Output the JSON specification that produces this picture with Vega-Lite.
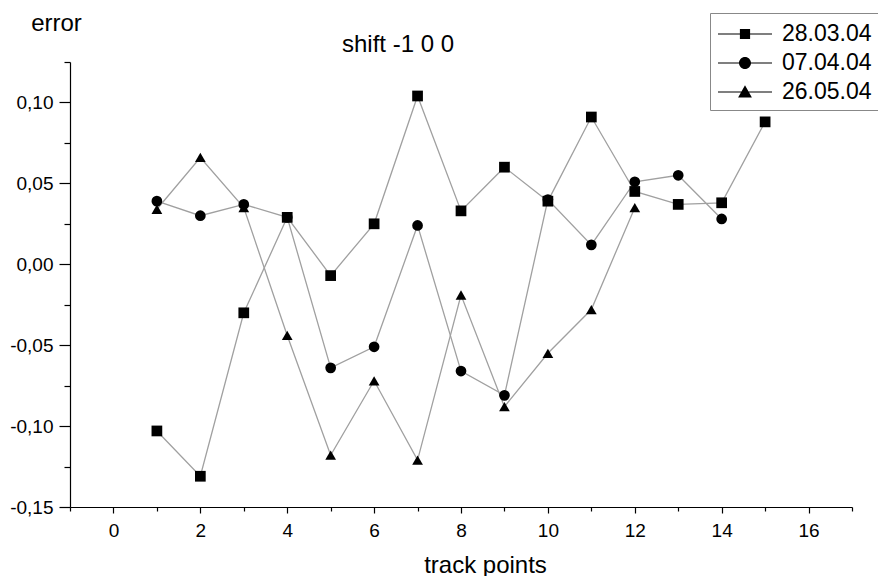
{
  "$schema": "https://vega.github.io/schema/vega-lite/v6.json",
  "width": 782,
  "height": 445,
  "autosize": {"type": "none"},
  "padding": {"left": 70, "top": 62, "right": 26, "bottom": 69},
  "background": "white",
  "config": {
    "font": "Liberation Sans",
    "view": {"stroke": null},
    "axis": {"domainColor": "black", "tickColor": "black", "labelColor": "black", "titleColor": "black", "domainWidth": 1.2, "tickWidth": 1.2, "grid": false, "labelFont": "Liberation Sans", "titleFont": "Liberation Sans", "titleFontWeight": "normal"}
  },
  "title": {"text": "shift -1 0 0", "fontSize": 24, "fontWeight": "normal", "font": "Liberation Sans", "color": "black", "anchor": "middle", "dx": -63, "dy": 75, "baseline": "alphabetic", "offset": 10},
  "data": {"values": [
    {"x": 1, "y": -0.103, "s": "28.03.04"},
    {"x": 2, "y": -0.131, "s": "28.03.04"},
    {"x": 3, "y": -0.030, "s": "28.03.04"},
    {"x": 4, "y": 0.029, "s": "28.03.04"},
    {"x": 5, "y": -0.007, "s": "28.03.04"},
    {"x": 6, "y": 0.025, "s": "28.03.04"},
    {"x": 7, "y": 0.104, "s": "28.03.04"},
    {"x": 8, "y": 0.033, "s": "28.03.04"},
    {"x": 9, "y": 0.060, "s": "28.03.04"},
    {"x": 10, "y": 0.039, "s": "28.03.04"},
    {"x": 11, "y": 0.091, "s": "28.03.04"},
    {"x": 12, "y": 0.045, "s": "28.03.04"},
    {"x": 13, "y": 0.037, "s": "28.03.04"},
    {"x": 14, "y": 0.038, "s": "28.03.04"},
    {"x": 15, "y": 0.088, "s": "28.03.04"},
    {"x": 1, "y": 0.039, "s": "07.04.04"},
    {"x": 2, "y": 0.030, "s": "07.04.04"},
    {"x": 3, "y": 0.037, "s": "07.04.04"},
    {"x": 4, "y": 0.029, "s": "07.04.04"},
    {"x": 5, "y": -0.064, "s": "07.04.04"},
    {"x": 6, "y": -0.051, "s": "07.04.04"},
    {"x": 7, "y": 0.024, "s": "07.04.04"},
    {"x": 8, "y": -0.066, "s": "07.04.04"},
    {"x": 9, "y": -0.081, "s": "07.04.04"},
    {"x": 10, "y": 0.040, "s": "07.04.04"},
    {"x": 11, "y": 0.012, "s": "07.04.04"},
    {"x": 12, "y": 0.051, "s": "07.04.04"},
    {"x": 13, "y": 0.055, "s": "07.04.04"},
    {"x": 14, "y": 0.028, "s": "07.04.04"},
    {"x": 1, "y": 0.034, "s": "26.05.04"},
    {"x": 2, "y": 0.066, "s": "26.05.04"},
    {"x": 3, "y": 0.035, "s": "26.05.04"},
    {"x": 4, "y": -0.044, "s": "26.05.04"},
    {"x": 5, "y": -0.118, "s": "26.05.04"},
    {"x": 6, "y": -0.072, "s": "26.05.04"},
    {"x": 7, "y": -0.121, "s": "26.05.04"},
    {"x": 8, "y": -0.019, "s": "26.05.04"},
    {"x": 9, "y": -0.088, "s": "26.05.04"},
    {"x": 10, "y": -0.055, "s": "26.05.04"},
    {"x": 11, "y": -0.028, "s": "26.05.04"},
    {"x": 12, "y": 0.035, "s": "26.05.04"}
  ]},
  "resolve": {"axis": {"x": "independent", "y": "independent"}, "scale": {"shape": "independent"}, "legend": {"shape": "independent"}},
  "layer": [
    {
      "mark": {"type": "line", "color": "#a0a0a0", "strokeWidth": 1.3},
      "encoding": {
        "x": {"field": "x", "type": "quantitative", "scale": {"domain": [-1, 17], "nice": false, "zero": false},
          "axis": {"orient": "bottom", "values": [0, 2, 4, 6, 8, 10, 12, 14, 16], "tickSize": 6, "labelFontSize": 19, "labelPadding": 8, "title": "track points", "titleFontSize": 24, "titleX": 415, "titleY": 58, "titleBaseline": "middle", "titleAlign": "center"}},
        "y": {"field": "y", "type": "quantitative", "scale": {"domain": [-0.15, 0.125], "nice": false, "zero": false},
          "axis": {"orient": "left", "values": [-0.15, -0.1, -0.05, 0, 0.05, 0.1], "tickSize": 11, "labelFontSize": 19, "labelPadding": 6, "labelExpr": "replace(replace(format(datum.value, '.2f'), '.', ','), '\u2212', '-')", "title": "error", "titleAngle": 0, "titleFontSize": 24, "titleX": -14, "titleY": -39, "titleAlign": "center", "titleBaseline": "middle"}},
        "detail": {"field": "s"}
      }
    },
    {
      "mark": {"type": "point", "filled": true, "color": "black", "opacity": 1},
      "encoding": {
        "x": {"field": "x", "type": "quantitative",
          "axis": {"orient": "bottom", "values": [-1, 1, 3, 5, 7, 9, 11, 13, 15, 17], "tickSize": 4, "labels": false, "domain": false, "title": null}},
        "y": {"field": "y", "type": "quantitative",
          "axis": {"orient": "left", "values": [-0.125, -0.075, -0.025, 0.025, 0.075, 0.125], "tickSize": 6, "labels": false, "domain": false, "title": null}},
        "shape": {"field": "s", "type": "nominal",
          "scale": {"domain": ["28.03.04", "07.04.04", "26.05.04"], "range": ["square", "circle", "triangle-up"]},
          "legend": null},
        "size": {"value": 115}
      }
    },
    {
      "mark": {"type": "point", "filled": true, "color": "black", "opacity": 0},
      "encoding": {
        "x": {"field": "x", "type": "quantitative", "axis": null},
        "y": {"field": "y", "type": "quantitative", "axis": null},
        "shape": {"field": "s", "type": "nominal",
          "scale": {"domain": ["28.03.04", "07.04.04", "26.05.04"], "range": ["M-1.8,-0.035H1.8V0.035H-1.8ZM-0.34,-0.34H0.34V0.34H-0.34Z", "M-1.8,-0.035H1.8V0.035H-1.8ZM0.4,0A0.4,0.4 0 1,1 -0.4,0A0.4,0.4 0 1,1 0.4,0Z", "M-1.8,-0.035H1.8V0.035H-1.8ZM0,-0.45L0.46,0.36L-0.46,0.36Z"]},
          "legend": {"orient": "none", "legendX": 640, "legendY": -49, "title": null, "strokeColor": "#888", "padding": 6, "labelFontSize": 23, "labelColor": "black", "labelFont": "Liberation Sans", "symbolSize": 900, "symbolOpacity": 1, "symbolFillColor": "black", "symbolStrokeWidth": 0, "symbolOffset": 14, "labelOffset": 22, "rowPadding": 2}}
      }
    }
  ]
}
